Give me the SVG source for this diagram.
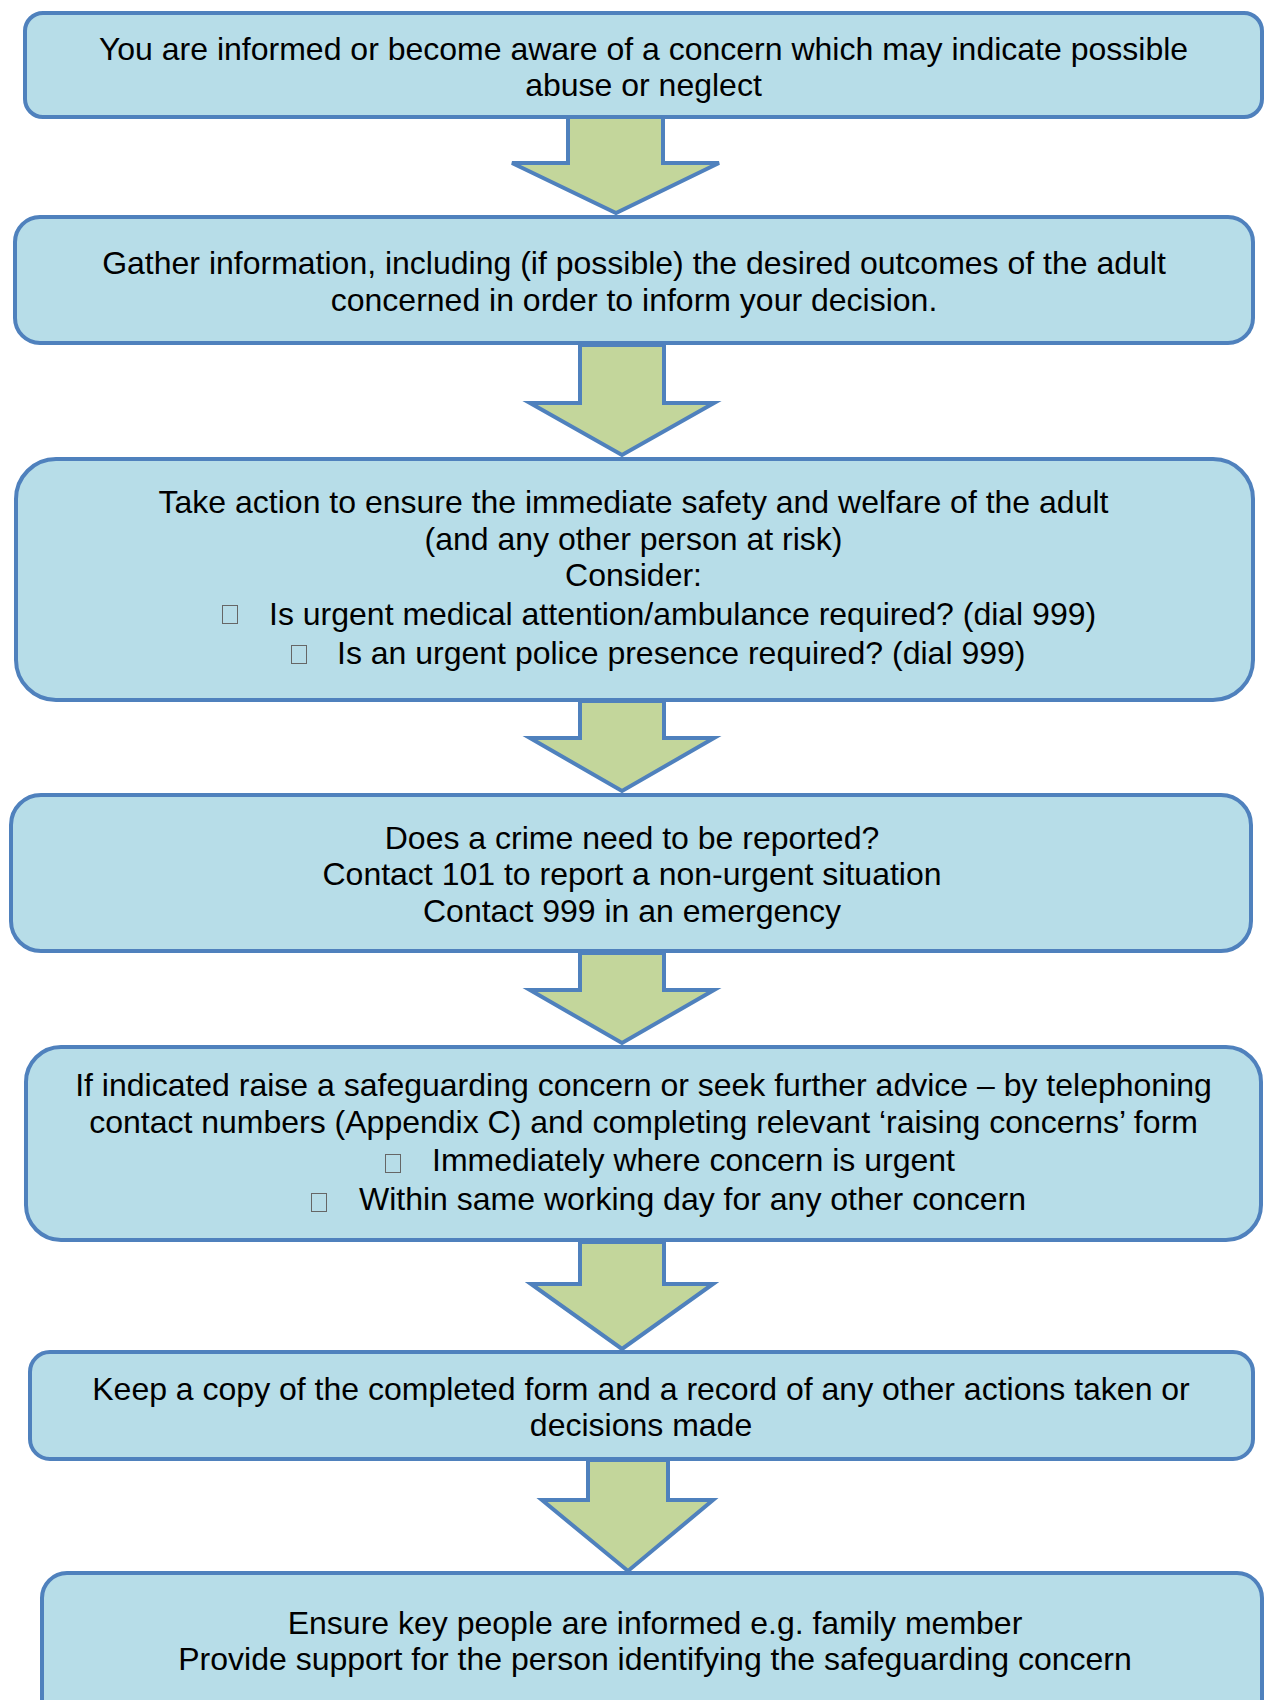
<svg xmlns="http://www.w3.org/2000/svg" width="1266" height="1700" viewBox="0 0 1266 1700">
<style>
.box{fill:#B7DDE8;stroke:#4F81BD;stroke-width:4}
.arr{fill:#C3D69B;stroke:#4F81BD;stroke-width:4;stroke-linejoin:miter}
text{font-family:"Liberation Sans",Arial,sans-serif;font-size:32px;fill:#000}
.c{text-anchor:middle}
.tofu{fill:none;stroke:#666;stroke-width:1}
</style>
<rect width="1266" height="1700" fill="#fff"/>
<g id="n1">
<rect class="box" x="25" y="13" width="1237" height="104" rx="18"/>
<text class="c" x="643.5" y="60">You are informed or become aware of a concern which may indicate possible</text>
<text class="c" x="643.5" y="96">abuse or neglect</text>
</g>
<g id="n2">
<rect class="box" x="15" y="217" width="1238" height="126" rx="25"/>
<text class="c" x="634" y="274">Gather information, including (if possible) the desired outcomes of the adult</text>
<text class="c" x="634" y="311">concerned in order to inform your decision.</text>
</g>
<g id="n3">
<rect class="box" x="16" y="459" width="1237" height="241" rx="40"/>
<text class="c" x="633.5" y="513">Take action to ensure the immediate safety and welfare of the adult</text>
<text class="c" x="633.5" y="550">(and any other person at risk)</text>
<text class="c" x="633.5" y="586">Consider:</text>
<rect class="tofu" x="222.5" y="605.5" width="15" height="18"/>
<text x="269" y="625">Is urgent medical attention/ambulance required? (dial 999)</text>
<rect class="tofu" x="291.5" y="645.5" width="15" height="18"/>
<text x="337" y="664">Is an urgent police presence required? (dial 999)</text>
</g>
<g id="n4">
<rect class="box" x="11" y="795" width="1240" height="156" rx="30"/>
<text class="c" x="632" y="849">Does a crime need to be reported?</text>
<text class="c" x="632" y="885">Contact 101 to report a non-urgent situation</text>
<text class="c" x="632" y="922">Contact 999 in an emergency</text>
</g>
<g id="n5">
<rect class="box" x="26" y="1047" width="1235" height="193" rx="35"/>
<text class="c" x="643.5" y="1096">If indicated raise a safeguarding concern or seek further advice – by telephoning</text>
<text class="c" x="643.5" y="1133">contact numbers (Appendix C) and completing relevant ‘raising concerns’ form</text>
<rect class="tofu" x="385.5" y="1154.5" width="15" height="18"/>
<text x="432" y="1171">Immediately where concern is urgent</text>
<rect class="tofu" x="311.5" y="1193.5" width="15" height="18"/>
<text x="359" y="1210">Within same working day for any other concern</text>
</g>
<g id="n6">
<rect class="box" x="30" y="1352" width="1223" height="107" rx="20"/>
<text class="c" x="641" y="1400">Keep a copy of the completed form and a record of any other actions taken or</text>
<text class="c" x="641" y="1436">decisions made</text>
</g>
<g id="n7">
<rect class="box" x="42" y="1573" width="1220" height="160" rx="25"/>
<text class="c" x="655" y="1634">Ensure key people are informed e.g. family member</text>
<text class="c" x="655" y="1670">Provide support for the person identifying the safeguarding concern</text>
</g>
<g id="connectors">
<polygon class="arr" points="568,117 663,117 663,163 719,163 616,213 512,163 568,163"/>
<polygon class="arr" points="580,345 664,345 664,403 714,403 622,455 530,403 580,403"/>
<polygon class="arr" points="580,701 664,701 664,738 714,738 622,791 530,738 580,738"/>
<polygon class="arr" points="580,953 664,953 664,990 714,990 622,1043 530,990 580,990"/>
<polygon class="arr" points="580,1242 664,1242 664,1284 713,1284 622,1349 531,1284 580,1284"/>
<polygon class="arr" points="588,1460 668,1460 668,1500 713,1500 628,1571 542,1500 588,1500"/>
</g>
</svg>
